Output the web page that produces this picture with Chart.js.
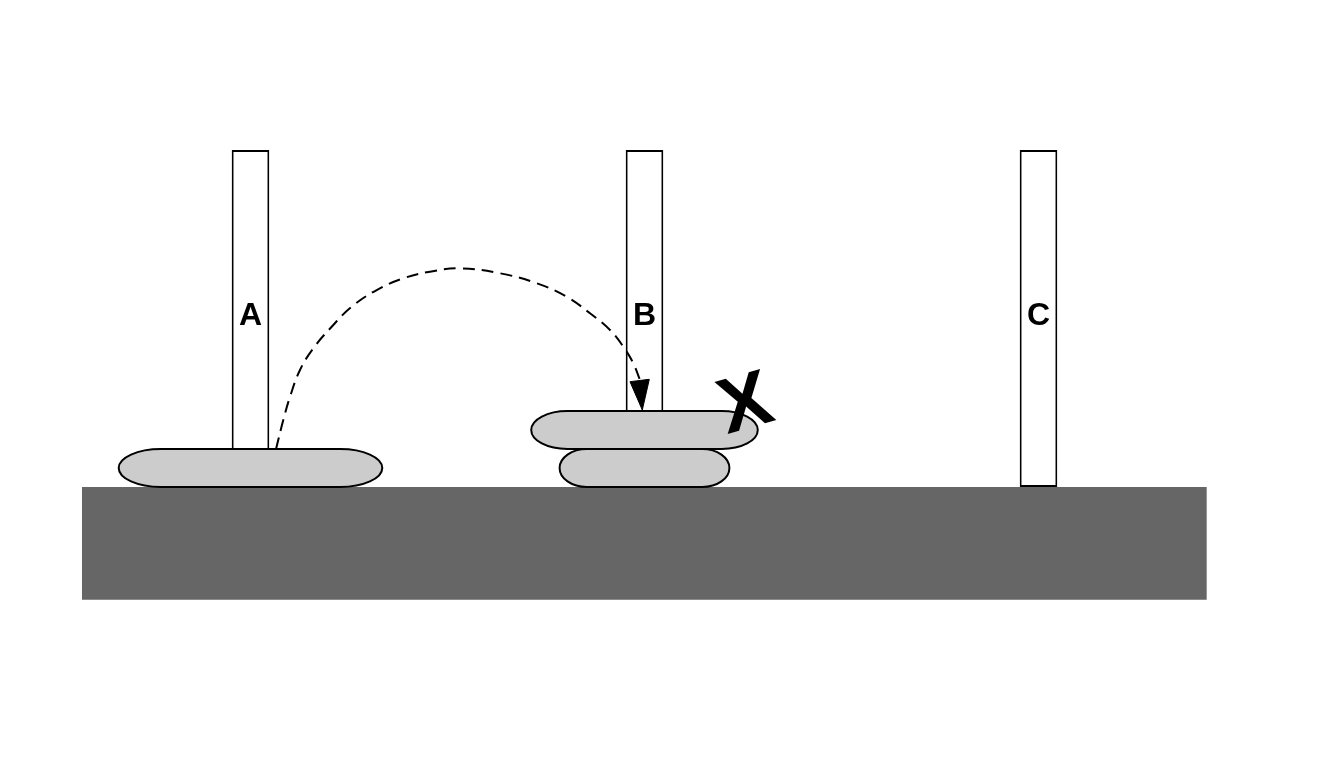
<!DOCTYPE html>
<html>
<head>
<meta charset="utf-8">
<script src="https://cdn.jsdelivr.net/npm/chart.js@4.4.1/dist/chart.umd.min.js"></script>
<style>
  html, body { margin: 0; padding: 0; background: #ffffff; overflow: hidden; }
  #wrap { width: 1344px; height: 767px; position: relative; }
</style>
</head>
<body>
<div id="wrap"><canvas id="c"></canvas></div>
<script>
// ---- Data (x: peg units, pegs at 1,2,3; y: disk-height units, ground at 0) ----
const pegLabels    = ['A', 'B', 'C'];
const pegPositions = [1, 2, 3];
const pegTop       = [8.87, 8.87, 8.87];

const diskPeg      = [1, 2, 2];
const diskLevel    = [0, 0, 1];
const diskWidth    = [0.669, 0.431, 0.575];

const groundSpan   = [0.5723, 3.4269];
const groundLevel  = [0, -2.966];

// dashed move path
const moveX = [1.0647, 1.0832, 1.1003, 1.1256, 1.1594, 1.2061, 1.2569, 1.3203, 1.3878,
               1.4556, 1.5317, 1.6333, 1.7264, 1.8025, 1.8617, 1.9124, 1.9462, 1.9716, 1.9886];
const moveY = [0.992, 1.763, 2.376, 3.079, 3.650, 4.218, 4.745, 5.184, 5.492,
               5.666, 5.755, 5.624, 5.361, 5.008, 4.571, 4.132, 3.692, 3.255, 2.816];
// arrow head
const arrowX = [1.9632, 1.9944, 2.0122, 1.9632];
const arrowY = [2.771, 2.026, 2.834, 2.771];

// label positions / forbidden-move mark
const labelLevel = 4.571;
const markText = 'X';
const markX = 2.2535;
const markY = 2.28;

// ---- Scale ranges ----
const X_MIN = 0.36421, X_MAX = 3.77538;
const Y_MIN = -7.3684, Y_MAX = 12.8158;

function hiddenAxis(axisName, min, max, position) {
  return {
    type: 'linear', axis: axisName, position: position, display: false,
    min: min, max: max, bounds: 'data', offset: false, grace: 0,
    ticks: { maxTicksLimit: 2, display: false }, grid: { display: false }
  };
}

const pegData  = pegPositions.map((p, i) => ({ x: p, y: [0, pegTop[i]] }));
const diskData = diskPeg.map((p, i) => ({ y: diskLevel[i] + 0.5, x: [p - diskWidth[i] / 2, p + diskWidth[i] / 2] }));
const groundData = [{ y: (groundLevel[0] + groundLevel[1]) / 2, x: groundSpan.slice() }];
const groundThickness = Math.abs(groundLevel[0] - groundLevel[1]);
const moveData  = moveX.map((x, i) => ({ x: x, y: moveY[i] }));
const arrowData = arrowX.map((x, i) => ({ x: x, y: arrowY[i] }));

const PEG_WIDTH = 0.0955;   // fraction of peg spacing
const DISK_END_CURVE = 0.16;

// Draw disks with elliptical ends, using the bar elements' geometry
const diskShapePlugin = {
  id: 'diskShape',
  beforeDatasetDraw(chart, args) {
    const ds = chart.data.datasets[args.index];
    if (!ds.ellipseEnds) return;
    const ctx = chart.ctx;
    args.meta.data.forEach(el => {
      const p = el.getProps(['x', 'y', 'base', 'height'], true);
      const left = Math.min(p.x, p.base), right = Math.max(p.x, p.base);
      const w = right - left, ry = p.height / 2;
      const rx = Math.min(w / 2, w * DISK_END_CURVE);
      ctx.save();
      ctx.beginPath();
      ctx.moveTo(left + rx, p.y - ry);
      ctx.lineTo(right - rx, p.y - ry);
      ctx.ellipse(right - rx, p.y, rx, ry, 0, -Math.PI / 2, Math.PI / 2);
      ctx.lineTo(left + rx, p.y + ry);
      ctx.ellipse(left + rx, p.y, rx, ry, 0, Math.PI / 2, Math.PI * 1.5);
      ctx.closePath();
      ctx.fillStyle = ds.backgroundColor;
      ctx.fill();
      ctx.lineWidth = ds.borderWidth;
      ctx.strokeStyle = ds.borderColor;
      ctx.stroke();
      ctx.restore();
    });
    return false;
  }
};

const textPlugin = {
  id: 'pegText',
  afterDatasetsDraw(chart) {
    const ctx = chart.ctx;
    const sx = chart.scales.x, sy = chart.scales.y;
    ctx.save();
    ctx.fillStyle = '#000000';
    ctx.textAlign = 'center';
    ctx.textBaseline = 'alphabetic';
    const labelSize = 32;
    ctx.font = 'bold ' + labelSize + 'px "Liberation Sans", Arial, sans-serif';
    pegLabels.forEach((t, i) => {
      ctx.fillText(t, sx.getPixelForValue(pegPositions[i]), sy.getPixelForValue(labelLevel) + labelSize * 0.358);
    });
    const markSize = 78;
    ctx.translate(sx.getPixelForValue(markX), sy.getPixelForValue(markY));
    ctx.rotate(-16 * Math.PI / 180);
    ctx.font = 'bold ' + markSize + 'px "Liberation Sans", Arial, sans-serif';
    ctx.fillText(markText, 0, markSize * 0.358);
    ctx.restore();
  }
};

new Chart(document.getElementById('c'), {
  type: 'bar',
  data: {
    datasets: [
      {
        label: 'ground', type: 'bar', indexAxis: 'y', xAxisID: 'xh', yAxisID: 'y',
        data: groundData, backgroundColor: '#666666', borderWidth: 0, borderSkipped: false,
        grouped: false, categoryPercentage: 1, barPercentage: groundThickness, order: 6
      },
      {
        label: 'pegs', type: 'bar', indexAxis: 'x', xAxisID: 'x', yAxisID: 'yv',
        data: pegData, backgroundColor: '#ffffff', borderColor: '#000000', borderWidth: 2,
        borderSkipped: false, grouped: false, categoryPercentage: 1, barPercentage: PEG_WIDTH, order: 5
      },
      {
        label: 'disks', type: 'bar', indexAxis: 'y', xAxisID: 'xh', yAxisID: 'y',
        data: diskData, backgroundColor: '#cccccc', borderColor: '#000000', borderWidth: 2,
        borderSkipped: false, grouped: false, categoryPercentage: 1, barPercentage: 1,
        ellipseEnds: true, order: 4
      },
      {
        label: 'move', type: 'line', xAxisID: 'x', yAxisID: 'y',
        data: moveData, borderColor: '#000000', borderWidth: 2, borderDash: [12, 7],
        pointRadius: 0, tension: 0.4, fill: false, order: 3
      },
      {
        label: 'arrow', type: 'line', xAxisID: 'x', yAxisID: 'y',
        data: arrowData, borderColor: '#000000', backgroundColor: '#000000', borderWidth: 1,
        pointRadius: 0, tension: 0, fill: 'shape', order: 2
      }
    ]
  },
  options: {
    responsive: true,
    maintainAspectRatio: false,
    animation: false,
    events: [],
    layout: { padding: 0 },
    plugins: { legend: { display: false }, tooltip: { enabled: false }, title: { display: false } },
    scales: {
      x:  hiddenAxis('x', X_MIN, X_MAX, 'bottom'),
      xh: hiddenAxis('x', X_MIN, X_MAX, 'top'),
      y:  hiddenAxis('y', Y_MIN, Y_MAX, 'left'),
      yv: hiddenAxis('y', Y_MIN, Y_MAX, 'right')
    }
  },
  plugins: [diskShapePlugin, textPlugin]
});
</script>
</body>
</html>
